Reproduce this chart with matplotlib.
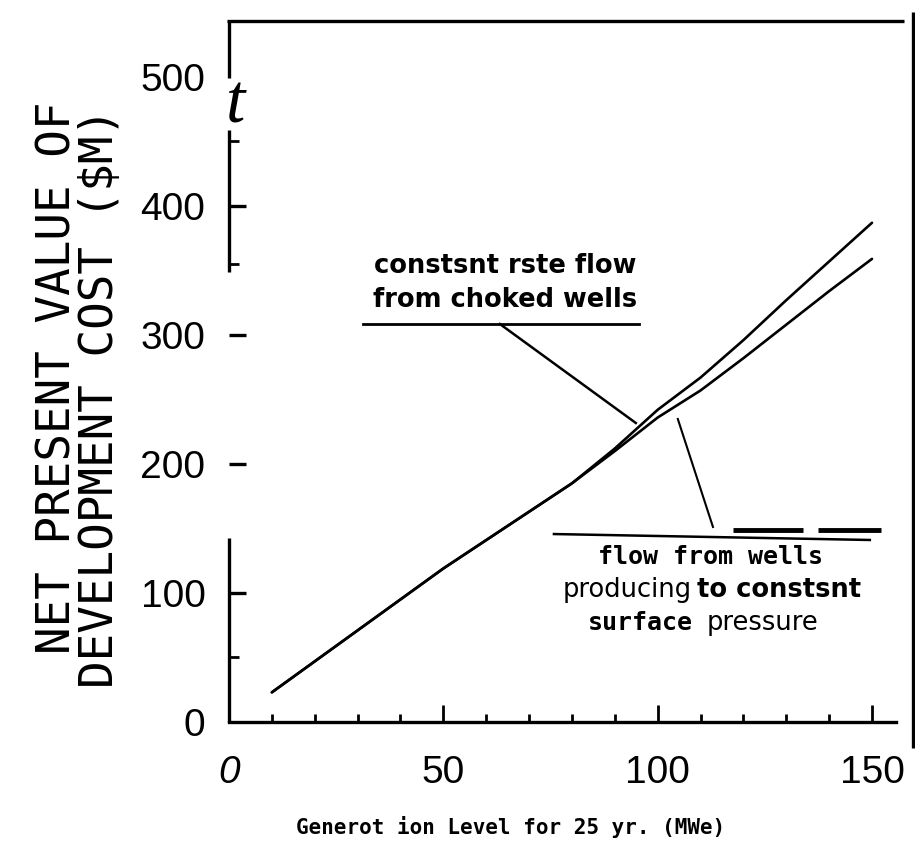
import matplotlib
matplotlib.use("Agg")
import matplotlib.pyplot as plt

# ---- data ----
gen_mwe = [10, 20, 30, 40, 50, 60, 70, 80, 90, 100, 110, 120, 130, 140, 150]
cost_choked = [23, 47, 71, 95, 119, 141, 163, 185, 212, 242, 267, 296, 327, 357, 387]
cost_surface = [23, 47, 71, 95, 119, 141, 163, 185, 210, 236, 257, 282, 308, 334, 359]

x_ticks = [0, 50, 100, 150]
x_tick_labels = ["0", "50", "100", "150"]
x_minor = [10, 20, 30, 40, 60, 70, 80, 90, 110, 120, 130, 140]
y_ticks = [0, 100, 200, 300, 400, 500]
y_tick_labels = ["0", "100", "200", "300", "400", "500"]
y_minor = [50, 355, 450]

label_choked = ["constsnt rste flow", "from choked wells"]
label_surface = "flow from wells"

K = "black"
fig = plt.figure(figsize=(9.15, 8.47), dpi=100)
ax = fig.add_axes([229 / 915, 1 - 722 / 847, (896 - 229) / 915, (722 - 21) / 847])
ax.set_xlim(0, 155.6)
ax.set_ylim(0, 543.4)

for s in ["left", "top", "right"]:
    ax.spines[s].set_visible(False)
ax.spines["bottom"].set_linewidth(2.4)

# curves
ax.plot(gen_mwe, cost_choked, color=K, lw=1.9, solid_capstyle="round")
ax.plot(gen_mwe, cost_surface, color=K, lw=1.9, solid_capstyle="round")

# fragmented left axis, top border, right border
seg = dict(color=K, lw=2.4, clip_on=False, solid_capstyle="butt")
ax.plot([0, 0], [543.4, 499.2], **seg)
ax.plot([0, 0], [459, 348.8], **seg)
ax.plot([0, 0], [142.6, 0], **seg)
ax.plot([-0.5, 157.5], [543.4, 543.4], **seg)
ax.plot([159.6, 159.6], [550.4, -20.2], **seg)
ax.text(1.6, 478, "t", fontsize=50, family="Liberation Serif", style="italic",
        ha="center", va="center")

# ticks
ax.set_xticks(x_ticks)
ax.set_xticklabels(x_tick_labels)
ax.set_xticks(x_minor, minor=True)
ax.set_yticks(y_ticks)
ax.set_yticklabels(y_tick_labels)
ax.set_yticks(y_minor, minor=True)
ax.tick_params(axis="x", which="major", direction="in", length=12, width=2, pad=24,
               labelsize=28)
ax.tick_params(axis="x", which="minor", direction="in", length=6, width=2)
ax.tick_params(axis="y", which="major", direction="in", length=12, width=2.4, pad=17,
               labelsize=28)
ax.tick_params(axis="y", which="minor", direction="in", length=7, width=2)
for lab in ax.get_xticklabels() + ax.get_yticklabels():
    lab.set_family("Liberation Sans")
ax.get_xticklabels()[0].set_style("italic")
ax.xaxis.get_major_ticks()[0].tick1line.set_visible(False)
ax.yaxis.get_major_ticks()[0].tick1line.set_visible(False)
ax.yaxis.get_major_ticks()[-1].tick1line.set_visible(False)

# axis titles
fig.text(511 / 915, 1 - 827 / 847, "Generot ion Level for 25 yr. (MWe)",
         family="DejaVu Sans Mono", fontweight="bold", fontsize=15,
         ha="center", va="center")
fig.text(58 / 915, 1 - 378 / 847, "NET PRESENT VALUE OF", family="DejaVu Sans Mono",
         fontsize=33, rotation=90, ha="center", va="center")
fig.text(101 / 915, 1 - 398 / 847, "DEVELOPMENT COST ($M)", family="DejaVu Sans Mono",
         fontsize=33, rotation=90, ha="center", va="center")

# upper annotation
ax.text(64.5, 353.5, label_choked[0], family="DejaVu Sans", fontweight="bold",
        fontsize=18.5, ha="center", va="center")
ax.text(64.4, 327, label_choked[1], family="DejaVu Sans", fontweight="bold",
        fontsize=18.5, ha="center", va="center")
ax.plot([31.3, 95.6], [308.5, 308.5], color=K, lw=2)
ax.plot([63.2, 94.9], [308.5, 231.8], color=K, lw=1.8)

# lower annotation
ax.plot([104.7, 112.9], [234.9, 151.2], color=K, lw=1.5)
ax.plot([75.8, 149.5], [145.7, 141.1], color=K, lw=1.8)
ax.plot([117.6, 133.9], [148.8, 148.8], color=K, lw=3.5, solid_capstyle="butt")
ax.plot([137.4, 152.1], [148.8, 148.8], color=K, lw=3.5, solid_capstyle="butt")
ax.text(112.4, 127.9, label_surface, family="DejaVu Sans Mono", fontweight="bold",
        fontsize=18, ha="center", va="center")
ax.text(108.0, 102.3, "producing", family="DejaVu Sans", fontsize=18.5,
        ha="right", va="center")
ax.text(109.2, 102.3, "to constsnt", family="DejaVu Sans", fontweight="bold",
        fontsize=18.5, ha="left", va="center")
ax.text(108.2, 76.7, "surface", family="DejaVu Sans Mono", fontweight="bold",
        fontsize=18, ha="right", va="center")
ax.text(111.5, 76.7, "pressure", family="DejaVu Sans", fontsize=18.5,
        ha="left", va="center")

fig.savefig("out.png", dpi=100, facecolor="white")
